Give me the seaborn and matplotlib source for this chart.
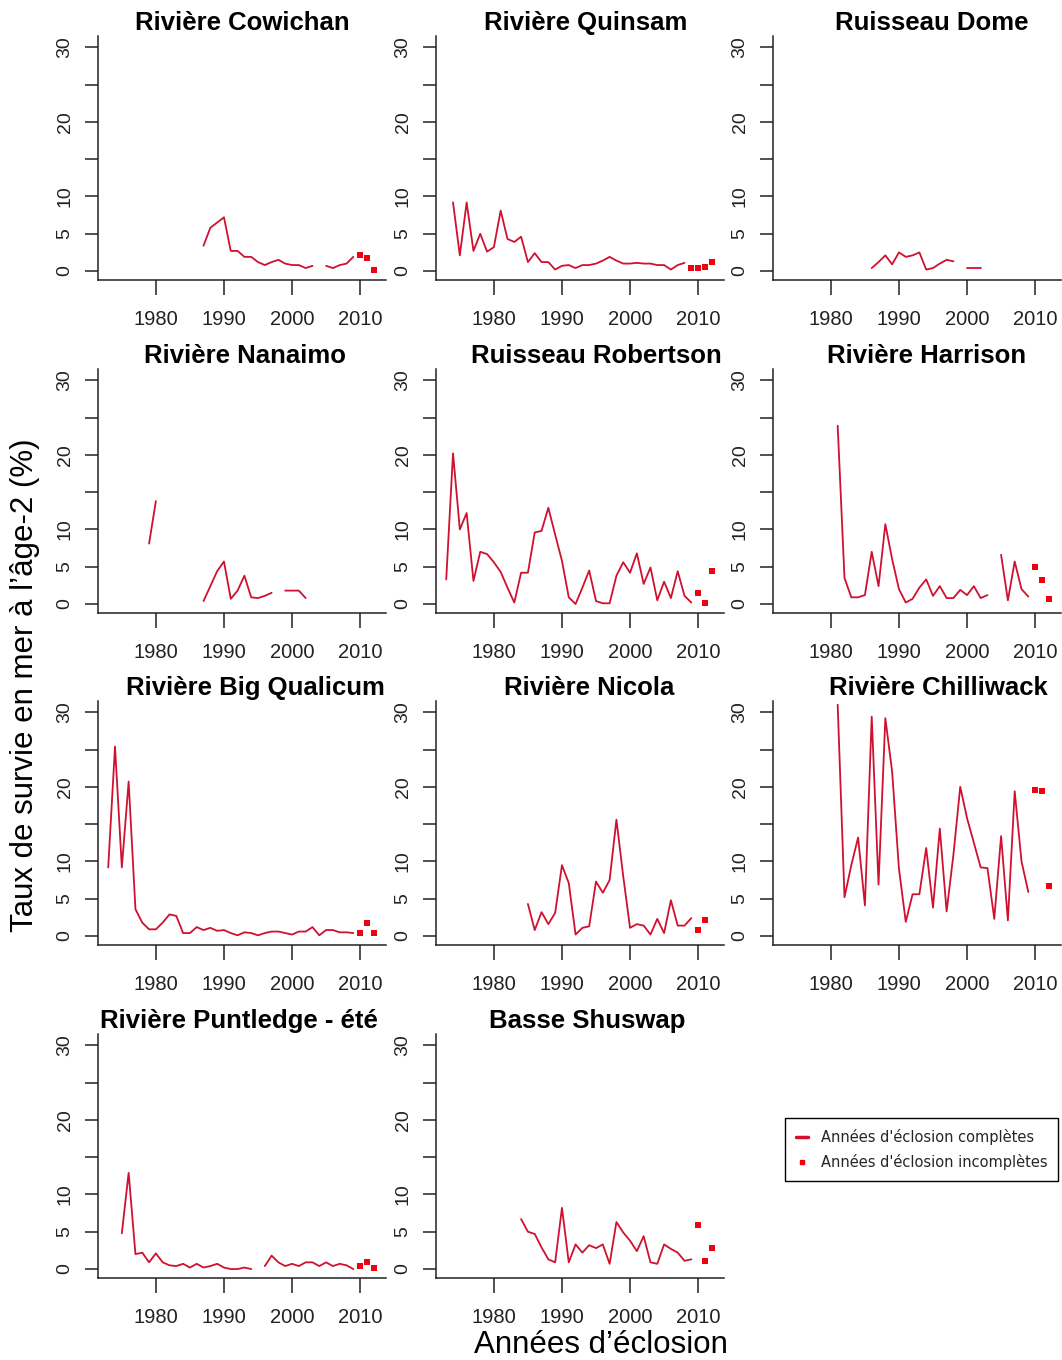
import numpy as np
import pandas as pd
import matplotlib
matplotlib.use("Agg")
import matplotlib.pyplot as plt
from matplotlib.lines import Line2D
import seaborn as sns

# ---------------- data ----------------
nan = np.nan

cowichan_years = list(range(1987, 2010))
cowichan_vals = [3.4, 5.8, 6.5, 7.2, 2.7, 2.7, 1.9, 1.9, 1.2, 0.8, 1.2, 1.5, 1.0,
                 0.8, 0.8, 0.4, 0.7, nan, 0.7, 0.4, 0.8, 1.0, 1.9]
cowichan_inc_years = [2010, 2011, 2012]
cowichan_inc_vals = [2.2, 1.7, 0.2]

quinsam_years = list(range(1974, 2009))
quinsam_vals = [9.2, 2.1, 9.2, 2.7, 5.0, 2.6, 3.2, 8.1, 4.3, 3.9, 4.6, 1.2, 2.4,
                1.2, 1.2, 0.2, 0.7, 0.8, 0.4, 0.8, 0.8, 1.0, 1.4, 1.9, 1.4, 1.0,
                1.0, 1.1, 1.0, 1.0, 0.8, 0.8, 0.2, 0.8, 1.1]
quinsam_inc_years = [2009, 2010, 2011, 2012]
quinsam_inc_vals = [0.4, 0.4, 0.6, 1.2]

dome_years = list(range(1986, 2003))
dome_vals = [0.4, 1.2, 2.1, 0.9, 2.5, 1.9, 2.1, 2.5, 0.2, 0.4, 1.0, 1.5, 1.3,
             nan, 0.4, 0.4, 0.4]
dome_inc_years = []
dome_inc_vals = []

nanaimo_years = list(range(1979, 2003))
nanaimo_vals = [8.1, 13.8, nan, nan, nan, nan, nan, nan, 0.4, 2.4, 4.4, 5.7, 0.7,
                1.8, 3.8, 0.9, 0.8, 1.1, 1.5, nan, 1.8, 1.8, 1.8, 0.8]
nanaimo_inc_years = []
nanaimo_inc_vals = []

robertson_years = list(range(1973, 2010))
robertson_vals = [3.3, 20.2, 10.0, 12.2, 3.1, 7.0, 6.7, 5.6, 4.3, 2.2, 0.2, 4.2,
                  4.2, 9.6, 9.8, 12.9, 9.3, 5.8, 0.9, 0.0, 2.2, 4.5, 0.4, 0.1,
                  0.1, 3.8, 5.6, 4.2, 6.8, 2.7, 4.9, 0.5, 3.0, 0.8, 4.4, 1.1, 0.2]
robertson_inc_years = [2010, 2011, 2012]
robertson_inc_vals = [1.5, 0.2, 4.4]

harrison_years = list(range(1981, 2010))
harrison_vals = [23.9, 3.5, 0.9, 0.9, 1.2, 7.0, 2.4, 10.7, 6.0, 2.0, 0.2, 0.7,
                 2.2, 3.3, 1.1, 2.4, 0.8, 0.8, 1.9, 1.2, 2.4, 0.8, 1.2, nan, 6.6,
                 0.5, 5.7, 2.0, 1.0]
harrison_inc_years = [2010, 2011, 2012]
harrison_inc_vals = [4.9, 3.2, 0.7]

bigqual_years = list(range(1973, 2010))
bigqual_vals = [9.2, 25.4, 9.2, 20.7, 3.6, 1.8, 0.9, 0.9, 1.8, 2.9, 2.7, 0.4, 0.4,
                1.2, 0.8, 1.1, 0.7, 0.8, 0.4, 0.1, 0.5, 0.4, 0.1, 0.4, 0.6, 0.6,
                0.4, 0.2, 0.6, 0.6, 1.2, 0.1, 0.8, 0.8, 0.5, 0.5, 0.4]
bigqual_inc_years = [2010, 2011, 2012]
bigqual_inc_vals = [0.4, 1.7, 0.4]

nicola_years = list(range(1985, 2010))
nicola_vals = [4.3, 0.8, 3.2, 1.6, 3.1, 9.5, 7.1, 0.2, 1.1, 1.3, 7.3, 5.8, 7.5,
               15.6, 8.0, 1.1, 1.6, 1.4, 0.2, 2.3, 0.4, 4.8, 1.4, 1.4, 2.4]
nicola_inc_years = [2010, 2011]
nicola_inc_vals = [0.8, 2.1]

chilliwack_years = list(range(1981, 2010))
chilliwack_vals = [31.0, 5.2, 9.5, 13.2, 4.1, 29.4, 6.9, 29.2, 22.0, 9.0, 1.9, 5.6,
                   5.6, 11.8, 3.8, 14.4, 3.3, 10.9, 20.0, 15.8, 12.5, 9.2, 9.1,
                   2.3, 13.4, 2.1, 19.4, 10.0, 5.9]
chilliwack_inc_years = [2010, 2011, 2012]
chilliwack_inc_vals = [19.6, 19.5, 6.7]

puntledge_years = list(range(1975, 2010))
puntledge_vals = [4.8, 12.9, 2.0, 2.2, 0.9, 2.1, 0.9, 0.5, 0.4, 0.7, 0.2, 0.7, 0.2,
                  0.4, 0.7, 0.2, 0.0, 0.0, 0.2, 0.0, nan, 0.4, 1.8, 0.9, 0.4, 0.7,
                  0.4, 0.9, 0.9, 0.4, 0.9, 0.4, 0.7, 0.5, 0.0]
puntledge_inc_years = [2010, 2011, 2012]
puntledge_inc_vals = [0.4, 0.9, 0.2]

shuswap_years = list(range(1984, 2010))
shuswap_vals = [6.7, 5.0, 4.7, 2.9, 1.3, 0.9, 8.2, 0.9, 3.3, 2.2, 3.2, 2.8, 3.3,
                0.7, 6.3, 4.9, 3.8, 2.4, 4.4, 0.9, 0.7, 3.3, 2.7, 2.2, 1.1, 1.3]
shuswap_inc_years = [2010, 2011, 2012]
shuswap_inc_vals = [5.9, 1.1, 2.8]

panel_titles = ["Rivière Cowichan", "Rivière Quinsam", "Ruisseau Dome",
                "Rivière Nanaimo", "Ruisseau Robertson", "Rivière Harrison",
                "Rivière Big Qualicum", "Rivière Nicola", "Rivière Chilliwack",
                "Rivière Puntledge - été", "Basse Shuswap"]

x_ticks = [1980, 1990, 2000, 2010]
y_ticks = [0, 5, 10, 15, 20, 25, 30]
y_tick_labels = ["0", "5", "10", "", "20", "", "30"]

legend_labels = ["Années d'éclosion complètes", "Années d'éclosion incomplètes"]
y_title = "Taux de survie en mer à l’âge-2 (%)"
x_title = "Années d’éclosion"

series = [
    (cowichan_years, cowichan_vals, cowichan_inc_years, cowichan_inc_vals),
    (quinsam_years, quinsam_vals, quinsam_inc_years, quinsam_inc_vals),
    (dome_years, dome_vals, dome_inc_years, dome_inc_vals),
    (nanaimo_years, nanaimo_vals, nanaimo_inc_years, nanaimo_inc_vals),
    (robertson_years, robertson_vals, robertson_inc_years, robertson_inc_vals),
    (harrison_years, harrison_vals, harrison_inc_years, harrison_inc_vals),
    (bigqual_years, bigqual_vals, bigqual_inc_years, bigqual_inc_vals),
    (nicola_years, nicola_vals, nicola_inc_years, nicola_inc_vals),
    (chilliwack_years, chilliwack_vals, chilliwack_inc_years, chilliwack_inc_vals),
    (puntledge_years, puntledge_vals, puntledge_inc_years, puntledge_inc_vals),
    (shuswap_years, shuswap_vals, shuswap_inc_years, shuswap_inc_vals),
]

# ---------------- style ----------------
sns.set_style("white")
plt.rcParams["font.family"] = ["Liberation Sans", "DejaVu Sans"]

LINE_COLOR = "#D0102F"
POINT_COLOR = "#F00010"
AXIS_COLOR = "#222222"

W, H = 1062, 1360
fig = plt.figure(figsize=(W / 100, H / 100), dpi=100)
fig.patch.set_facecolor("white")

col_left_px = [98, 436, 773]
row_bottom_px = [280, 613, 945, 1278]
ax_w_px, ax_h_px = 288, 244
title_x = [0.50, 0.52, 0.55, 0.51, 0.557, 0.533, 0.547, 0.533, 0.575, 0.49, 0.524]

for i, (yrs, vals, iyrs, ivals) in enumerate(series):
    r, c = divmod(i, 3)
    ax = fig.add_axes([col_left_px[c] / W, 1 - row_bottom_px[r] / H,
                       ax_w_px / W, ax_h_px / H])
    df = pd.DataFrame({"year": yrs, "value": vals})
    df["seg"] = df["value"].isna().cumsum()
    df = df.dropna()
    sns.lineplot(data=df, x="year", y="value", units="seg", estimator=None,
                 color=LINE_COLOR, linewidth=1.3, ax=ax, legend=False)
    if len(iyrs):
        dfi = pd.DataFrame({"year": iyrs, "value": ivals})
        sns.scatterplot(data=dfi, x="year", y="value", marker="s", s=16,
                        color=POINT_COLOR, linewidth=0, ax=ax, legend=False)
    ax.set_xlim(1971.5, 2013.8)
    ax.set_ylim(-1.2, 31.5)
    ax.set_xticks(x_ticks)
    ax.set_xticklabels([str(t) for t in x_ticks])
    ax.set_yticks(y_ticks)
    ax.set_yticklabels(y_tick_labels)
    ax.set_xlabel("")
    ax.set_ylabel("")
    for s in ["top", "right"]:
        ax.spines[s].set_visible(False)
    for s in ["left", "bottom"]:
        ax.spines[s].set_color(AXIS_COLOR)
        ax.spines[s].set_linewidth(1.1)
    ax.tick_params(axis="x", length=10.5, width=1.1, pad=11, labelsize=14.5,
                   colors=AXIS_COLOR, direction="out", bottom=True)
    ax.tick_params(axis="y", length=9.5, width=1.1, pad=8, labelsize=14,
                   colors=AXIS_COLOR, direction="out", left=True,
                   labelrotation=90)
    for lab in ax.get_yticklabels():
        lab.set_va("center")
    ax.set_facecolor("white")
    ax.set_title(panel_titles[i], fontsize=18.5, fontweight="bold", pad=4,
                 x=title_x[i], color="black")

# axis titles
fig.text(25 / W, 1 - 685 / H, y_title, rotation=90, fontsize=22.5,
         ha="center", va="center", color="black")
fig.text(601 / W, 1 - 1345 / H, x_title, fontsize=22.5,
         ha="center", va="center", color="black")

# legend
handles = [Line2D([0], [0], color=LINE_COLOR, lw=2.5),
           Line2D([0], [0], color=POINT_COLOR, marker="s", ms=3.5, ls="")]
leg = fig.legend(handles, legend_labels, loc="upper left",
                 bbox_to_anchor=(785 / W, 1 - 1118 / H), frameon=True,
                 fancybox=False, edgecolor="black", framealpha=1,
                 prop={"family": "DejaVu Sans", "size": 10.5},
                 handlelength=0.8, handletextpad=0.9, borderpad=0.75,
                 labelspacing=0.65, borderaxespad=0)
leg.get_frame().set_linewidth(1.0)

fig.savefig("out.png", dpi=100, facecolor="white")
